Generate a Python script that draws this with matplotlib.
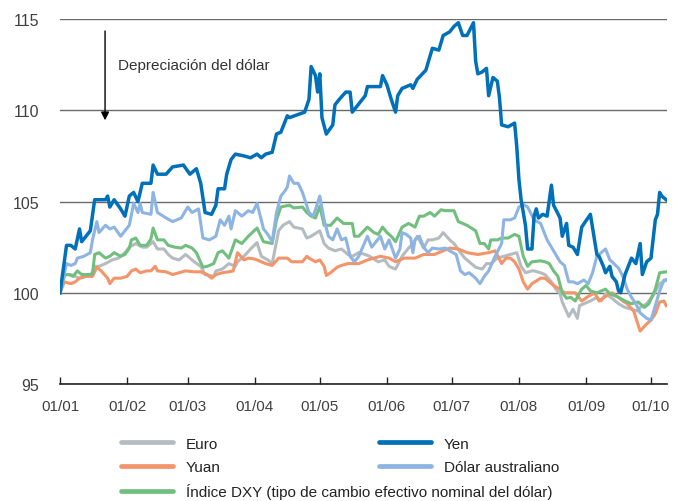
import matplotlib
matplotlib.use("Agg")
import matplotlib.pyplot as plt
import matplotlib.dates as mdates
import pandas as pd
from matplotlib.lines import Line2D

plt.rcParams['font.family'] = ['Liberation Sans', 'DejaVu Sans']

START = pd.Timestamp('2021-01-01')

# Índices (1 de enero = 100); días contados desde el 1 de enero
yen_days = [0, 3, 5, 7, 9, 10, 14, 16, 21, 22, 23, 25, 28, 30, 32, 34, 36, 38, 42, 43,
            45, 49, 52, 57, 60, 63, 65, 67, 70, 72, 73, 76, 77, 79, 81, 85, 88, 91, 93, 95,
            98, 100, 102, 105, 106, 113, 115, 116, 118, 119, 120, 121, 123, 126, 127, 129,
            132, 134, 135, 141, 142, 148, 149, 151, 153, 155, 156, 158, 162, 163, 165, 169,
            172, 175, 177, 180, 182, 184, 186, 188, 191, 192, 193, 195, 197, 198, 200, 202,
            203, 204, 207, 210, 211, 212, 213, 215, 216, 218, 219, 220, 221, 223, 225, 227,
            228, 231, 232, 234, 235, 237, 239, 241, 245, 248, 249, 251, 252, 254, 255, 257,
            258, 259, 261, 262, 264, 266, 268, 269, 271, 273, 275, 276, 277, 278, 280]
yen = [100.0, 102.6, 102.6, 102.4, 103.5, 102.8, 103.4, 105.1, 105.1, 105.3, 104.7, 105.1,
       104.6, 104.2, 105.3, 105.5, 105.0, 106.0, 106.0, 107.0, 106.5, 106.5, 106.9, 107.0,
       106.5, 106.8, 106.0, 104.4, 104.3, 104.8, 105.7, 105.7, 106.5, 107.3, 107.6, 107.5,
       107.4, 107.6, 107.4, 107.6, 107.7, 108.7, 108.8, 109.7, 109.6, 109.9, 110.6, 112.4,
       111.9, 111.0, 112.0, 109.6, 108.7, 109.2, 110.3, 110.6, 111.0, 111.0, 109.9, 110.8,
       111.3, 111.3, 111.9, 111.4, 110.6, 109.9, 110.8, 111.2, 111.4, 111.2, 111.7, 112.2,
       113.4, 113.3, 114.1, 114.3, 114.6, 114.8, 114.1, 114.1, 114.8, 112.7, 112.0, 112.1,
       112.3, 110.8, 111.8, 111.6, 110.7, 109.2, 109.1, 109.3, 108.0, 106.2, 105.1, 103.7,
       102.4, 102.4, 104.2, 104.6, 104.1, 104.3, 104.2, 105.9, 104.8, 104.1, 103.1, 103.8,
       102.6, 102.5, 102.1, 103.6, 104.3, 102.1, 102.0, 101.45, 101.1, 101.45, 100.9, 100.6,
       100.1, 100.0, 101.0, 101.3, 101.9, 101.6, 102.7, 101.0, 101.7, 101.9, 104.0, 104.3,
       105.5, 105.3, 105.1]

aud_days = [0, 3, 5, 7, 8, 11, 14, 15, 17, 18, 21, 23, 25, 28, 32, 34, 36, 37, 38, 42, 43,
            45, 49, 52, 56, 59, 61, 64, 66, 69, 72, 74, 76, 78, 79, 81, 84, 87, 89, 91, 94,
            96, 98, 100, 102, 104, 105, 106, 108, 110, 112, 115, 117, 120, 122, 124, 126,
            128, 130, 132, 134, 136, 138, 142, 144, 146, 148, 150, 152, 155, 157, 158, 160,
            162, 163, 164, 166, 168, 170, 172, 175, 178, 180, 183, 185, 187, 189, 192, 194,
            196, 198, 201, 204, 205, 208, 210, 212, 214, 216, 219, 222, 223, 225, 228, 231,
            233, 235, 237, 239, 242, 244, 246, 248, 250, 252, 254, 255, 258, 260, 262, 264,
            266, 268, 271, 273, 275, 277, 279, 280]
aud = [100.0, 101.6, 101.5, 101.6, 101.9, 102.0, 102.2, 102.9, 103.9, 103.3, 103.7, 103.5,
       103.6, 103.1, 103.7, 104.9, 104.4, 104.9, 104.4, 104.3, 105.5, 104.4, 104.1, 103.9,
       104.1, 104.7, 104.4, 104.6, 103.0, 102.9, 103.1, 104.0, 103.7, 104.2, 103.5, 104.5,
       104.2, 104.5, 104.4, 104.9, 103.5, 103.2, 102.8, 104.4, 105.3, 105.6, 105.8, 106.4,
       106.0, 106.0, 105.5, 104.4, 104.2, 105.3, 104.0, 103.1, 102.9, 103.5, 102.9, 103.0,
       102.0, 101.7, 102.0, 103.1, 102.5, 102.8, 103.1, 102.4, 102.9, 101.9, 102.4, 103.3,
       103.2, 103.0, 102.2, 102.9, 103.1, 102.5, 102.2, 102.45, 102.4, 102.45, 102.3, 102.1,
       101.2, 101.0, 101.1, 100.8, 100.5, 100.9, 101.2, 102.0, 102.7, 104.0, 104.0, 104.1,
       104.7, 104.85, 104.7, 104.0, 103.8, 103.5, 102.9, 102.3, 101.7, 101.5, 100.6, 100.6,
       100.5, 100.7, 100.5, 101.1, 102.0, 102.2, 102.4, 101.8, 101.7, 101.35, 100.9, 100.2,
       99.75, 99.4, 98.9, 98.6, 98.5, 99.3, 100.1, 100.7, 100.7]

euro_days = [0, 2, 3, 5, 7, 9, 12, 14, 16, 18, 21, 24, 27, 30, 32, 35, 38, 40, 43, 45, 48,
             50, 52, 55, 58, 62, 65, 67, 71, 72, 75, 78, 81, 82, 85, 88, 91, 93, 96, 98, 101,
             103, 106, 108, 112, 114, 116, 120, 122, 124, 127, 130, 133, 135, 138, 141, 143,
             147, 150, 152, 155, 158, 161, 163, 165, 168, 170, 172, 175, 177, 180, 182, 185,
             187, 189, 192, 195, 197, 199, 202, 205, 208, 211, 213, 215, 218, 219, 222, 224,
             227, 229, 231, 232, 235, 237, 239, 240, 242, 245, 248, 250, 252, 255, 258, 261,
             264, 267, 268, 271, 274, 277, 280]
euro = [100.0, 100.9, 101.0, 101.0, 100.9, 100.8, 100.9, 100.9, 101.45, 101.45, 101.6, 101.8,
        101.9, 102.2, 102.5, 102.7, 102.5, 102.5, 102.8, 102.4, 102.4, 102.1, 101.9, 101.8,
        102.1, 101.7, 101.45, 101.0, 100.9, 101.2, 101.3, 101.6, 101.45, 101.7, 102.0, 102.4,
        102.75, 102.0, 101.8, 101.6, 103.4, 103.7, 103.9, 103.6, 103.5, 103.0, 103.1, 103.4,
        102.7, 102.45, 102.3, 102.4, 102.1, 102.0, 102.2, 102.1, 102.0, 101.7, 101.8, 101.45,
        101.3, 102.0, 102.45, 102.7, 103.1, 102.45, 102.9, 102.9, 103.0, 103.3, 102.9, 102.7,
        102.2, 101.9, 101.7, 101.4, 101.3, 101.6, 101.6, 101.9, 102.0, 102.1, 102.2, 101.45,
        101.1, 101.2, 101.2, 101.1, 101.0, 100.6, 100.2, 99.95, 99.5, 98.7, 99.1, 98.6, 99.3,
        99.4, 99.55, 99.75, 99.55, 99.95, 99.7, 99.4, 99.2, 99.1, 99.0, 99.2, 99.4, 99.85,
        100.5, 100.7]

yuan_days = [0, 2, 5, 7, 9, 12, 15, 17, 19, 22, 23, 25, 28, 31, 33, 35, 37, 40, 42, 44, 45,
             49, 52, 55, 58, 62, 65, 68, 70, 72, 75, 78, 80, 82, 85, 87, 90, 93, 95, 98, 101,
             105, 107, 109, 112, 114, 115, 118, 120, 122, 123, 125, 128, 130, 133, 135, 138,
             142, 145, 148, 152, 155, 159, 164, 168, 173, 180, 184, 188, 193, 198, 201, 204,
             206, 208, 210, 212, 214, 216, 218, 222, 224, 226, 228, 231, 233, 235, 238, 241,
             244, 247, 249, 252, 255, 258, 260, 262, 265, 268, 271, 273, 275, 277, 279, 280]
yuan = [100.0, 100.6, 100.5, 100.6, 100.8, 100.9, 100.9, 101.4, 101.2, 100.8, 100.5, 100.8,
        100.8, 100.9, 101.2, 101.3, 101.1, 101.2, 101.2, 101.45, 101.2, 101.15, 101.0, 101.1,
        101.2, 101.15, 101.15, 101.0, 100.8, 101.0, 101.1, 101.15, 101.2, 102.2, 101.8, 101.9,
        101.85, 101.7, 101.6, 101.5, 101.9, 101.9, 101.7, 101.7, 101.7, 102.0, 101.9, 101.7,
        101.8, 101.45, 100.95, 101.1, 101.4, 101.5, 101.6, 101.6, 101.6, 101.8, 101.9, 102.0,
        101.9, 101.7, 101.9, 101.9, 102.1, 102.1, 102.45, 102.4, 102.2, 102.1, 102.2, 102.3,
        101.6, 101.9, 101.9, 101.7, 101.3, 100.6, 100.2, 100.5, 100.8, 100.8, 100.6, 100.4,
        100.2, 100.0, 100.0, 100.0, 99.55, 99.8, 100.0, 99.55, 99.8, 100.0, 99.75, 99.55,
        99.4, 99.0, 97.9, 98.3, 98.5, 98.85, 99.5, 99.55, 99.3]

dxy_days = [0, 2, 4, 6, 8, 10, 12, 15, 16, 18, 21, 23, 25, 28, 30, 32, 33, 35, 37, 40, 42,
            43, 45, 48, 50, 53, 56, 58, 61, 63, 66, 68, 71, 73, 75, 78, 81, 84, 87, 91, 94,
            98, 100, 102, 106, 108, 112, 114, 116, 118, 120, 122, 125, 128, 131, 135, 136,
            138, 142, 145, 147, 149, 151, 153, 155, 158, 161, 164, 166, 168, 171, 173, 176,
            178, 182, 184, 186, 188, 192, 194, 196, 198, 199, 202, 204, 207, 210, 212, 214,
            216, 218, 222, 224, 226, 228, 230, 232, 234, 236, 238, 241, 243, 245, 248, 252,
            254, 258, 261, 264, 267, 270, 272, 275, 277, 280]
dxy = [100.0, 101.0, 101.0, 100.9, 101.2, 101.0, 101.0, 101.0, 102.1, 102.2, 101.9, 102.0,
       102.2, 102.0, 102.1, 102.45, 102.9, 103.0, 102.6, 102.6, 102.95, 103.55, 102.9, 102.9,
       102.6, 102.5, 102.45, 102.6, 102.45, 102.2, 101.4, 101.45, 101.6, 102.2, 102.3, 101.9,
       102.9, 102.7, 103.1, 103.55, 102.8, 102.7, 104.0, 104.7, 104.8, 104.65, 104.7, 104.4,
       104.2, 104.1, 104.75, 103.7, 103.7, 104.1, 103.8, 103.8, 103.1, 103.1, 103.6, 103.3,
       103.2, 103.6, 103.3, 103.1, 102.8, 103.6, 103.8, 103.6, 104.2, 104.2, 104.4, 104.2,
       104.55, 104.5, 104.5, 103.9, 103.8, 103.7, 103.4, 102.7, 102.7, 102.4, 102.9, 102.9,
       103.0, 103.0, 103.2, 103.1, 102.0, 101.45, 101.7, 101.75, 101.7, 101.6, 101.2, 100.9,
       100.0, 99.7, 99.75, 99.55, 100.2, 100.4, 100.1, 100.0, 100.2, 99.95, 99.75, 99.55,
       99.4, 99.5, 99.2, 99.4, 100.2, 101.1, 101.15]

labels = ['Euro', 'Yuan', 'Índice DXY (tipo de cambio efectivo nominal del dólar)',
          'Yen', 'Dólar australiano']
colors = {'Euro': '#b4bcc1', 'Yuan': '#f39469', 'DXY': '#71bf7e',
          'Yen': '#0070b8', 'AUD': '#8db4e2'}


def to_dates(days):
    return START + pd.to_timedelta(days, unit='D')


fig = plt.figure(figsize=(6.9, 5.02), dpi=100)
ax = fig.add_axes([0.087, 0.233, 0.880, 0.727])

lw = 2.2
ax.plot(to_dates(euro_days), euro, color=colors['Euro'], lw=lw)
ax.plot(to_dates(yuan_days), yuan, color=colors['Yuan'], lw=lw)
ax.plot(to_dates(dxy_days), dxy, color=colors['DXY'], lw=lw)
ax.plot(to_dates(aud_days), aud, color=colors['AUD'], lw=lw)
ax.plot(to_dates(yen_days), yen, color=colors['Yen'], lw=2.5)

ax.set_ylim(95, 115)
ax.set_yticks([95, 100, 105, 110, 115])
ax.set_xlim(START, START + pd.Timedelta(days=280.5))
ax.xaxis.set_major_locator(mdates.MonthLocator())
ax.xaxis.set_major_formatter(mdates.DateFormatter('%d/%m'))

ax.grid(True, axis='y', color='#6a6a6a', lw=1.0)
ax.set_axisbelow(True)
for s in ['left', 'right', 'top']:
    ax.spines[s].set_visible(False)
ax.spines['bottom'].set_color('#222222')
ax.spines['bottom'].set_linewidth(1.2)

ax.tick_params(axis='y', length=0, pad=15, labelsize=11.5, labelcolor='#404040')
ax.tick_params(axis='x', direction='in', length=5, width=1, color='#222222',
               pad=11, labelsize=11, labelcolor='#404040')

# flecha y texto
ax.annotate('', xy=(START + pd.Timedelta(days=20.8), 109.3),
            xytext=(START + pd.Timedelta(days=20.8), 114.5),
            arrowprops=dict(arrowstyle='-|>', color='black', lw=1.0, mutation_scale=12))
ax.text(START + pd.Timedelta(days=26.8), 112.5, 'Depreciación del dólar',
        fontsize=11, color='#333333', va='center', ha='left')

def handle(c):
    return Line2D([], [], color=c, lw=3.4, solid_capstyle='round')

leg_kw = dict(frameon=False, fontsize=11, handlelength=3.4, handletextpad=0.85,
              labelspacing=0.6, borderpad=0, borderaxespad=0, labelcolor='#222222')
leg1 = fig.legend([handle(colors['Euro']), handle(colors['Yuan']), handle(colors['DXY'])],
                  labels[:3], loc='upper left', bbox_to_anchor=(0.175, 0.128), **leg_kw)
leg2 = fig.legend([handle(colors['Yen']), handle(colors['AUD'])],
                  labels[3:], loc='upper left', bbox_to_anchor=(0.549, 0.128), **leg_kw)

fig.savefig('out.png', dpi=100)
